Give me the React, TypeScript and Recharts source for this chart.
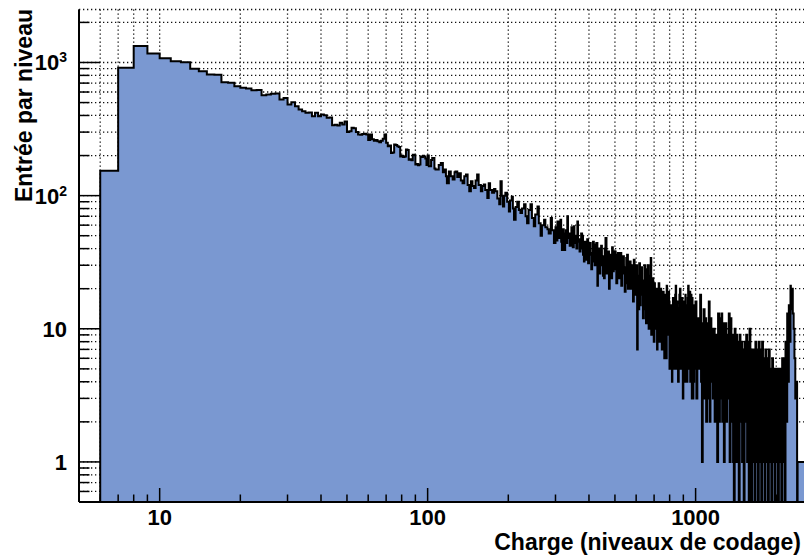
import { ComposedChart, Area, XAxis, YAxis, CartesianGrid } from 'recharts'

const FONT = '"Liberation Sans", Arial, Helvetica, sans-serif'

// one bin per coding level, first filled bin starts at 6
const firstBin = 6
const binCounts = [
  154, 912, 1327, 1169, 1077, 1023, 1005, 897, 860, 813,
  808, 711, 703, 664, 645, 638, 619, 622, 568, 575,
  582, 585, 527, 541, 483, 503, 469, 443, 430, 419,
  421, 395, 419, 395, 406, 402, 384, 386, 338, 340,
  336, 352, 342, 360, 301, 305, 323, 320, 301, 288,
  286, 290, 292, 288, 262, 288, 265, 258, 262, 256,
  252, 258, 268, 288, 250, 235, 238, 209, 211, 242,
  240, 235, 232, 197, 199, 195, 197, 222, 220, 186,
  188, 184, 203, 201, 171, 173, 169, 171, 197, 195,
  199, 197, 190, 170,
]

// above 100 the bins are thinner than a pixel: [charge, count] read along the band
const tail100: [number, number][] = [
  [100, 200], [101, 166], [103, 185], [104, 192], [106, 160], [107, 157], [110, 170], [112, 176],
  [114, 150], [115, 157], [117, 140], [118, 124], [120, 152], [122, 140], [124, 132], [126, 150],
  [127, 152], [129, 138], [131, 147], [133, 130], [135, 124], [137, 140], [139, 144], [141, 120],
  [143, 108], [145, 128], [147, 118], [149, 114], [151, 130], [153, 144], [155, 120], [158, 108],
  [160, 118], [162, 121], [164, 110], [167, 96], [169, 124], [171, 110], [174, 105], [177, 112],
  [179, 108], [182, 95], [185, 86], [187, 128], [189, 100], [191, 83], [193, 100], [195, 105],
  [198, 90], [201, 76], [203, 92], [206, 98], [208, 80], [210, 66], [213, 82], [216, 90],
  [219, 78], [222, 74], [225, 80], [229, 86], [232, 70], [235, 62], [238, 78], [242, 86],
  [245, 68], [249, 59], [252, 72], [257, 83], [260, 62], [264, 50], [267, 60], [272, 66],
  [275, 58], [280, 56], [283, 52], [288, 68], [291, 55], [296, 44],
]

const tail300: [number, number][] = [
  [300, 58], [303, 46], [305, 64], [308, 52], [309, 48], [311, 60], [313, 66], [315, 45],
  [317, 39], [319, 56], [322, 50], [324, 39], [326, 52], [328, 55], [330, 44], [332, 70],
  [334, 48], [336, 52], [339, 42], [342, 44], [344, 58], [346, 55], [348, 41], [351, 59],
  [353, 44], [356, 50], [359, 40], [362, 64], [364, 45], [367, 47], [369, 38], [372, 40],
  [374, 52], [377, 50], [380, 36], [383, 32], [385, 45], [388, 42], [391, 33], [394, 47],
  [397, 31], [400, 36], [403, 44], [406, 37], [408, 28], [411, 32], [414, 45], [417, 43],
  [420, 30], [423, 34], [426, 44], [430, 21], [432, 38], [435, 40], [438, 26], [441, 30],
  [444, 42], [447, 35], [451, 25], [455, 24], [458, 40], [461, 48], [465, 26], [468, 33],
  [471, 38], [475, 20], [478, 36], [481, 35], [485, 24], [488, 41], [491, 27], [495, 28],
  [499, 38], [503, 36], [506, 22], [510, 30], [513, 37], [517, 24], [521, 33], [525, 37],
  [528, 21], [532, 26], [536, 35], [540, 29], [544, 19], [548, 22], [551, 34], [555, 36],
  [559, 20], [563, 25], [567, 32], [572, 20], [576, 29], [580, 30], [584, 16], [588, 33],
  [592, 18], [597, 22], [601, 30], [605, 7], [608, 25], [612, 14], [616, 31], [620, 15],
  [624, 18], [628, 29], [632, 23], [636, 12], [641, 14], [645, 30], [650, 28], [653, 11],
  [657, 12], [660, 26], [664, 30], [668, 10], [672, 17], [676, 25], [680, 34], [683, 9],
  [687, 14], [691, 24], [695, 17], [698, 8], [702, 22], [705, 12], [709, 10], [712, 20],
  [716, 19], [718, 7], [721, 13], [725, 18], [728, 22], [732, 8], [736, 11], [740, 20],
  [744, 18], [748, 7], [752, 14], [756, 19], [760, 9], [764, 6], [768, 8], [771, 18],
  [774, 17], [777, 6], [780, 21], [783, 9], [786, 11], [791, 19], [796, 16], [799, 5],
  [803, 6], [808, 15], [812, 12], [816, 4], [819, 6], [823, 17], [826, 15], [830, 5],
  [835, 9], [839, 18], [843, 21], [846, 6], [849, 5], [852, 16], [855, 14], [860, 4],
  [865, 7], [870, 18], [874, 20], [878, 5], [883, 9], [888, 17], [893, 9], [896, 3],
  [900, 4], [903, 14], [906, 16], [910, 4], [913, 6], [916, 18], [918, 5], [922, 12],
  [925, 15], [929, 4], [932, 7], [935, 17], [938, 21], [942, 5], [945, 8], [949, 16],
  [952, 19], [955, 4], [958, 5], [962, 18], [965, 14], [968, 3], [971, 17], [974, 9],
  [977, 3], [981, 14], [984, 4], [988, 12], [991, 15], [995, 5],
]

const tail1000: [number, number][] = [
  [999, 16], [1007, 3], [1015, 12], [1026, 5], [1033, 10], [1040, 18], [1048, 4], [1056, 1],
  [1063, 11], [1071, 14], [1080, 3], [1088, 12], [1095, 2], [1103, 3], [1111, 11], [1120, 16],
  [1128, 2], [1136, 12], [1145, 4], [1152, 10], [1160, 3], [1169, 10], [1178, 2], [1186, 9],
  [1195, 2], [1204, 1], [1213, 13], [1223, 2], [1232, 12], [1240, 3], [1248, 13], [1257, 2],
  [1266, 11], [1275, 1], [1284, 8], [1293, 11], [1302, 2], [1311, 9], [1320, 3], [1330, 13],
  [1340, 1], [1350, 12], [1360, 2], [1370, 9], [1380, 1], [1389, 0], [1399, 10], [1409, 1],
  [1419, 9], [1429, 1], [1439, 8], [1449, 0], [1460, 9], [1470, 2], [1481, 8], [1491, 1],
  [1502, 7], [1512, 0], [1523, 8], [1534, 2], [1545, 9], [1557, 1], [1568, 8], [1579, 0],
  [1590, 10], [1601, 1], [1613, 0], [1625, 7], [1636, 1], [1648, 7], [1660, 0], [1672, 8],
  [1684, 1], [1696, 7], [1708, 0], [1721, 8], [1733, 1], [1745, 7], [1758, 0], [1771, 8],
  [1784, 1], [1797, 6], [1810, 0], [1822, 7], [1836, 1], [1849, 6], [1862, 0], [1876, 7],
  [1890, 1], [1903, 5], [1917, 0], [1931, 6], [1945, 1], [1959, 5], [1973, 0], [1987, 5],
  [2001, 1], [2016, 5], [2030, 0], [2045, 5], [2059, 1], [2074, 5], [2089, 0], [2104, 6],
  [2119, 1], [2134, 6], [2150, 0], [2165, 8], [2181, 2], [2197, 13], [2212, 4], [2228, 15],
  [2244, 8], [2260, 21], [2267, 20], [2276, 14], [2292, 20], [2305, 13], [2322, 10], [2338, 6],
  [2355, 3], [2379, 4], [2392, 0], [2402, 1],
]

const xDomain: [number, number] = [5, 2560]
const yDomain: [number, number] = [0.5, 2500]
const xTicks = [6, 7, 8, 9, 10, 20, 30, 40, 50, 60, 70, 80, 90, 100, 200, 300, 400, 500, 600, 700, 800, 900, 1000, 2000]
const xMajor = [10, 100, 1000]
const yTicks = [
  0.6, 0.7, 0.8, 0.9, 1, 2, 3, 4, 5, 6, 7, 8, 9, 10, 20, 30, 40, 50, 60, 70, 80, 90,
  100, 200, 300, 400, 500, 600, 700, 800, 900, 1000, 2000,
]
const yLabels: Record<number, [string, string]> = {
  1: ['1', ''],
  10: ['10', ''],
  100: ['10', '2'],
  1000: ['10', '3'],
}

const rows = [
  { x: firstBin, y: yDomain[0] },
  ...binCounts.map((c, i) => ({ x: firstBin + i, y: c })),
  ...[...tail100, ...tail300, ...tail1000].map(([x, c]) => ({ x, y: Math.max(c, yDomain[0]) })),
  { x: xDomain[1], y: 1 },
]

const frame = { stroke: '#000', strokeWidth: 2 }

function BottomTick({ x, y, payload }: any) {
  const major = xMajor.includes(payload.value)
  return (
    <g>
      <line x1={x} x2={x} y1={y} y2={y - (major ? 14 : 7.5)} stroke="#000" strokeWidth={1.5} />
      {major && (
        <text x={x} y={y + 23} textAnchor="middle" fontFamily={FONT} fontWeight="bold" fontSize={22} fill="#000">
          {payload.value}
        </text>
      )}
    </g>
  )
}

function TopTick({ x, y, payload }: any) {
  const major = xMajor.includes(payload.value)
  return <line x1={x} x2={x} y1={y} y2={y + (major ? 14 : 7.5)} stroke="#000" strokeWidth={1.5} />
}

function LeftTick({ x, y, payload }: any) {
  const label = yLabels[payload.value]
  return (
    <g>
      <line x1={x} x2={x + (label ? 21 : 10.5)} y1={y} y2={y} stroke="#000" strokeWidth={1.5} />
      {label && (
        <text x={x - 12} y={y + 8} textAnchor="end" fontFamily={FONT} fontWeight="bold" fontSize={22} fill="#000">
          {label[0]}
          {label[1] ? <tspan dy={-8} fontSize={14}>{label[1]}</tspan> : null}
        </text>
      )}
    </g>
  )
}

function RightTick({ x, y, payload }: any) {
  const major = yLabels[payload.value] !== undefined
  return <line x1={x} x2={x - (major ? 21 : 10.5)} y1={y} y2={y} stroke="#000" strokeWidth={1.5} />
}

export default function App() {
  return (
    <div style={{ position: 'absolute', left: 0, top: 0, width: 804, height: 556, overflow: 'hidden', background: '#fff' }}>
      <ComposedChart width={806} height={556} data={rows} margin={{ top: 9.5, right: 1, bottom: 0, left: 0 }}>
        <CartesianGrid stroke="#111" strokeDasharray="1.3 2.7" strokeWidth={1.3} />
        <Area
          type="stepAfter"
          dataKey="y"
          stroke="#000"
          strokeWidth={2}
          fill="#7a98d1"
          fillOpacity={1}
          baseValue={yDomain[0]}
          dot={false}
          activeDot={false}
          isAnimationActive={false}
        />
        <XAxis
          dataKey="x"
          type="number"
          scale="log"
          domain={xDomain}
          allowDataOverflow
          ticks={xTicks}
          interval={0}
          height={54}
          tickSize={0}
          tickMargin={0}
          tickLine={false}
          tick={BottomTick}
          axisLine={frame}
        />
        <XAxis
          xAxisId="top"
          orientation="top"
          type="number"
          scale="log"
          domain={xDomain}
          allowDataOverflow
          ticks={xTicks}
          interval={0}
          height={0}
          tickSize={0}
          tickMargin={0}
          tickLine={false}
          tick={TopTick}
          axisLine={frame}
        />
        <YAxis
          type="number"
          scale="log"
          domain={yDomain}
          allowDataOverflow
          ticks={yTicks}
          interval={0}
          width={79}
          tickSize={0}
          tickMargin={0}
          tickLine={false}
          tick={LeftTick}
          axisLine={frame}
        />
        <YAxis
          yAxisId="right"
          orientation="right"
          type="number"
          scale="log"
          domain={yDomain}
          allowDataOverflow
          ticks={yTicks}
          interval={0}
          width={0}
          tickSize={0}
          tickMargin={0}
          tickLine={false}
          tick={RightTick}
          axisLine={frame}
        />
      </ComposedChart>
      <svg width={804} height={556} style={{ position: 'absolute', left: 0, top: 0, pointerEvents: 'none' }}>
        <text x={801} y={550} textAnchor="end" fontFamily={FONT} fontWeight="bold" fontSize={23} fill="#000">
          Charge (niveaux de codage)
        </text>
        <text
          x={32}
          y={9}
          textAnchor="end"
          transform="rotate(-90 32 9)"
          fontFamily={FONT}
          fontWeight="bold"
          fontSize={23}
          fill="#000"
        >
          Entrée par niveau
        </text>
      </svg>
    </div>
  )
}
